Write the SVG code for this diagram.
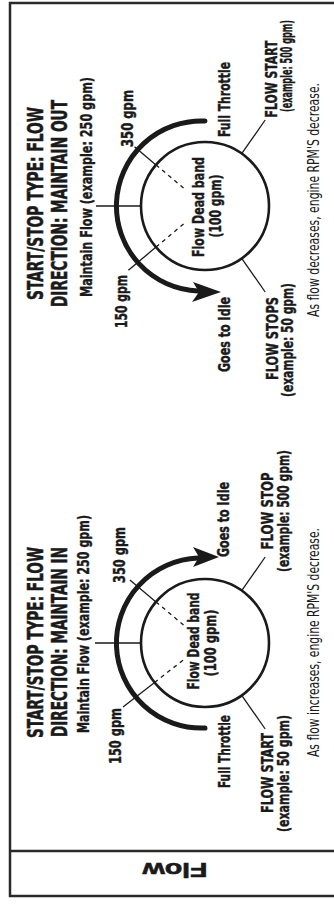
<svg xmlns="http://www.w3.org/2000/svg" width="334" height="905" viewBox="0 0 334 905">
<style>
text{fill:#1a1a1a;font-family:"Liberation Sans Narrow","DejaVu Sans Condensed","Liberation Sans",sans-serif;text-anchor:middle}
.t{font-size:20.5px;font-weight:bold;stroke:#1a1a1a;stroke-width:0.5}
.b{font-size:16.5px;font-weight:bold;stroke:#1a1a1a;stroke-width:0.4}
.s{font-size:15px;font-weight:bold;stroke:#1a1a1a;stroke-width:0.35}
.n{font-size:15px;font-weight:normal}
.fl{font-family:"Liberation Sans","DejaVu Sans",sans-serif;font-size:20px;font-weight:900;stroke:#1a1a1a;stroke-width:0.6}
.frame{fill:none;stroke:#2a2a2a;stroke-width:2.5}
.arc{fill:none;stroke:#1a1a1a;stroke-width:5;stroke-linecap:round}
.ring{fill:none;stroke:#1a1a1a;stroke-width:2.6}
.ln{stroke:#1a1a1a;stroke-width:1.3;fill:none}
.dash{stroke:#1a1a1a;stroke-width:1.3;stroke-dasharray:4 4;fill:none}
.head{fill:#1a1a1a}
</style>
<g id="frame">
<path class="frame" d="M340,3 H10 V896 H340"/>
<line class="frame" x1="10" y1="851" x2="340" y2="851"/>
<text class="fl" transform="translate(175,863) rotate(180)" textLength="65" lengthAdjust="spacingAndGlyphs">Flow</text>
</g>
<g id="connectors">
<line class="ln" x1="96" y1="206" x2="141" y2="206"/>
<line class="ln" x1="134.5" y1="146.8" x2="156" y2="164.9"/>
<line class="dash" x1="156" y1="164.9" x2="186.6" y2="190.6"/>
<line class="ln" x1="128.4" y1="270.3" x2="156" y2="247.1"/>
<line class="dash" x1="156" y1="247.1" x2="186.6" y2="221.4"/>
<line class="ln" x1="241.7" y1="153.6" x2="265.2" y2="120"/>
<line class="ln" x1="241.7" y1="258.4" x2="265.2" y2="292"/>
<line class="ln" x1="95" y1="643" x2="141" y2="643"/>
<line class="ln" x1="129.9" y1="580" x2="156" y2="601.9"/>
<line class="dash" x1="156" y1="601.9" x2="186.6" y2="627.6"/>
<line class="ln" x1="123" y1="707" x2="154.6" y2="682.4"/>
<line class="dash" x1="154.6" y1="682.4" x2="186.1" y2="657.8"/>
<line class="ln" x1="241.7" y1="590.6" x2="265.2" y2="557"/>
<line class="ln" x1="241.7" y1="695.4" x2="265.2" y2="729"/>
</g>
<g id="out-diagram">
<text class="t" transform="translate(43,203.5) rotate(-90)" textLength="193" lengthAdjust="spacingAndGlyphs">START/STOP TYPE: FLOW</text>
<text class="t" transform="translate(67,203.5) rotate(-90)" textLength="207" lengthAdjust="spacingAndGlyphs">DIRECTION: MAINTAIN OUT</text>
<text class="s" transform="translate(92,187) rotate(-90)" textLength="220" lengthAdjust="spacingAndGlyphs">Maintain Flow (example: 250 gpm)</text>
<text class="b" transform="translate(133,118.5) rotate(-90)" textLength="57" lengthAdjust="spacingAndGlyphs">350 gpm</text>
<text class="b" transform="translate(127,301.5) rotate(-90)" textLength="53" lengthAdjust="spacingAndGlyphs">150 gpm</text>
<path class="arc" d="M205,121 A85,85 0 0 0 198,291"/>
<path class="head" d="M221,292 L193,282 L199,292 L192,302 Z"/>
<circle class="ring" cx="205" cy="206" r="64"/>
<text class="b" transform="translate(204,207) rotate(-90)" textLength="100" lengthAdjust="spacingAndGlyphs">Flow Dead band</text>
<text class="b" transform="translate(221,206) rotate(-90)" textLength="63" lengthAdjust="spacingAndGlyphs">(100 gpm)</text>
<text class="b" transform="translate(230,99.5) rotate(-90)" textLength="75" lengthAdjust="spacingAndGlyphs">Full Throttle</text>
<text class="b" transform="translate(230,334.5) rotate(-90)" textLength="75" lengthAdjust="spacingAndGlyphs">Goes to Idle</text>
<text class="b" transform="translate(277,79) rotate(-90)" textLength="77" lengthAdjust="spacingAndGlyphs">FLOW START</text>
<text class="b" transform="translate(292,66) rotate(-90)" textLength="92" lengthAdjust="spacingAndGlyphs">(example: 500 gpm)</text>
<text class="b" transform="translate(278,338.5) rotate(-90)" textLength="83" lengthAdjust="spacingAndGlyphs">FLOW STOPS</text>
<text class="b" transform="translate(293,340) rotate(-90)" textLength="114" lengthAdjust="spacingAndGlyphs">(example: 50 gpm)</text>
<text class="n" transform="translate(319,200) rotate(-90)" textLength="234" lengthAdjust="spacingAndGlyphs">As flow decreases, engine RPM'S decrease.</text>
</g>
<g id="in-diagram">
<text class="t" transform="translate(43,642.5) rotate(-90)" textLength="191" lengthAdjust="spacingAndGlyphs">START/STOP TYPE: FLOW</text>
<text class="t" transform="translate(67,642) rotate(-90)" textLength="190" lengthAdjust="spacingAndGlyphs">DIRECTION: MAINTAIN IN</text>
<text class="s" transform="translate(89,624) rotate(-90)" textLength="218" lengthAdjust="spacingAndGlyphs">Maintain Flow (example: 250 gpm)</text>
<text class="b" transform="translate(125,555) rotate(-90)" textLength="56" lengthAdjust="spacingAndGlyphs">350 gpm</text>
<text class="b" transform="translate(121,736) rotate(-90)" textLength="56" lengthAdjust="spacingAndGlyphs">150 gpm</text>
<path class="arc" d="M205,728 A85,85 0 0 1 198,558"/>
<path class="head" d="M219,557 L193,547 L199,557 L193,567 Z"/>
<circle class="ring" cx="205" cy="643" r="64"/>
<text class="b" transform="translate(199,641) rotate(-90)" textLength="97" lengthAdjust="spacingAndGlyphs">Flow Dead band</text>
<text class="b" transform="translate(216,643) rotate(-90)" textLength="67" lengthAdjust="spacingAndGlyphs">(100 gpm)</text>
<text class="b" transform="translate(230,751.5) rotate(-90)" textLength="73" lengthAdjust="spacingAndGlyphs">Full Throttle</text>
<text class="b" transform="translate(229,519.5) rotate(-90)" textLength="75" lengthAdjust="spacingAndGlyphs">Goes to Idle</text>
<text class="b" transform="translate(273,511) rotate(-90)" textLength="77" lengthAdjust="spacingAndGlyphs">FLOW STOP</text>
<text class="b" transform="translate(289,511) rotate(-90)" textLength="122" lengthAdjust="spacingAndGlyphs">(example: 500 gpm)</text>
<text class="b" transform="translate(273,773) rotate(-90)" textLength="80" lengthAdjust="spacingAndGlyphs">FLOW START</text>
<text class="b" transform="translate(289,773.5) rotate(-90)" textLength="117" lengthAdjust="spacingAndGlyphs">(example: 50 gpm)</text>
<text class="n" transform="translate(319,642.5) rotate(-90)" textLength="229" lengthAdjust="spacingAndGlyphs">As flow increases, engine RPM'S decrease.</text>
</g>
</svg>
